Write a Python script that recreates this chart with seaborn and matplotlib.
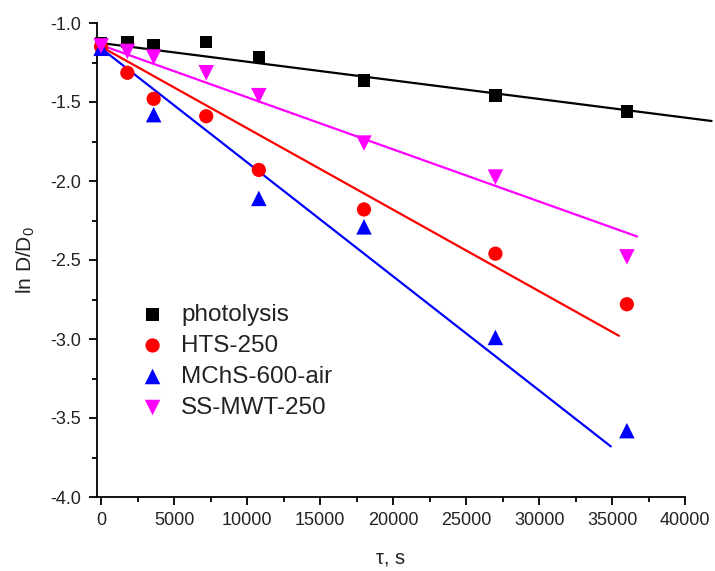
import numpy as np
import pandas as pd
import matplotlib
matplotlib.use("Agg")
import matplotlib.pyplot as plt
import seaborn as sns
from matplotlib.ticker import MultipleLocator

# Data
time_s = [0, 1800, 3600, 7200, 10800, 18000, 27000, 36000]
photolysis = [-1.13, -1.12, -1.14, -1.12, -1.215, -1.365, -1.46, -1.56]
hts_250 = [-1.15, -1.315, -1.48, -1.59, -1.93, -2.18, -2.46, -2.78]
mchs_time = [0, 3600, 10800, 18000, 27000, 36000]
mchs_600_air = [-1.16, -1.58, -2.11, -2.29, -2.99, -3.58]
ss_mwt_250 = [-1.145, -1.18, -1.215, -1.315, -1.46, -1.76, -1.975, -2.48]

series_names = ["photolysis", "HTS-250", "MChS-600-air", "SS-MWT-250"]
series_x = [time_s, time_s, mchs_time, time_s]
series_y = [photolysis, hts_250, mchs_600_air, ss_mwt_250]

# Linear fits: intercept, slope, end of fitted range
fit_intercept = [-1.127, -1.15, -1.16, -1.14]
fit_slope = [-1.18e-5, -5.16e-5, -7.22e-5, -3.3e-5]
fit_end = [41800, 35460, 34900, 36700]

colors = ["#000000", "#ff0000", "#0000ff", "#ff00ff"]
markers = ["s", "o", "^", "v"]
marker_area = [80, 105, 125, 125]

sns.set_style("ticks")
plt.rcParams["font.family"] = ["Liberation Sans", "DejaVu Sans"]
plt.rcParams["mathtext.default"] = "regular"
plt.rcParams["axes.unicode_minus"] = False

fig = plt.figure(figsize=(7.15, 5.71), dpi=100)
ax = fig.add_axes([96.7 / 715, (571 - 497) / 571, (685.3 - 96.7) / 715, (497 - 23) / 571])

for name, xs, ys, col, mk, area, b0, b1, xe in zip(series_names, series_x, series_y, colors,
                                                     markers, marker_area, fit_intercept,
                                                     fit_slope, fit_end):
    # fitted line
    fx = np.array([0, xe])
    sns.lineplot(x=fx, y=b0 + b1 * fx, color=col, lw=1.6, ax=ax, clip_on=False, zorder=2)
    # measured points
    sns.scatterplot(x=xs, y=ys, color=col, marker=mk, s=area, edgecolor="none",
                    label=name, ax=ax, zorder=3, clip_on=False)

ax.set_xlim(-300, 40000)
ax.set_ylim(-4.0, -1.0)
ax.xaxis.set_major_locator(MultipleLocator(5000))
ax.xaxis.set_minor_locator(MultipleLocator(2500))
ax.yaxis.set_major_locator(MultipleLocator(0.5))
ax.yaxis.set_minor_locator(MultipleLocator(0.25))
ax.tick_params(which="major", length=6, width=1.3, labelsize=13, pad=5, color="black",
               labelcolor="#222222")
ax.tick_params(which="minor", length=3.5, width=1.3, color="black")
for s in ["left", "bottom"]:
    ax.spines[s].set_linewidth(1.3)
    ax.spines[s].set_color("black")
sns.despine(ax=ax)

ax.set_xlabel("τ, s", fontsize=14.5, labelpad=14, color="#222222")
ax.set_ylabel("ln D/D$_0$", fontsize=15, labelpad=10, color="#222222")

leg = ax.legend(loc="upper left", bbox_to_anchor=(0.0753, 0.4075), frameon=False,
                fontsize=17.5, handlelength=0.95, handletextpad=0.7, labelspacing=0.37,
                borderpad=0, borderaxespad=0)
for t in leg.get_texts():
    t.set_color("#222222")

fig.savefig("out.png", dpi=100)
